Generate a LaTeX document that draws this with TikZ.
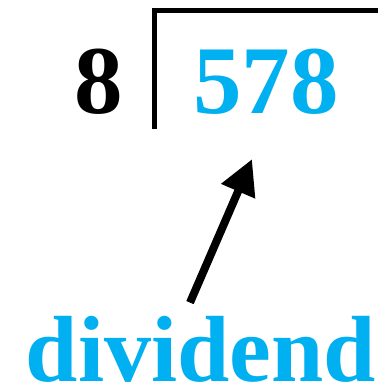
\documentclass[tikz,border=0pt]{standalone}
\usepackage{fontspec}
\setmainfont{Liberation Serif}
\usepackage{xcolor}
\usetikzlibrary{arrows.meta, positioning}
\definecolor{divblue}{HTML}{00B0F0}

\begin{document}
\begin{tikzpicture}[
			x=1pt, y=-1pt,
			digit/.style={inner sep=0pt, anchor=base,
				font=\bfseries\fontsize{97}{97}\selectfont},
			word/.style={inner sep=0pt, anchor=base, text=divblue,
				font=\bfseries\fontsize{94}{94}\selectfont},
			bar/.style={line width=5pt, miter limit=10},
			arrow/.style={-{Triangle[length=35pt, width=35pt]}, line width=8pt}
			]
			\useasboundingbox (0,0) rectangle (383,391);
			
			\node[digit] (divisor) at (99,113) {8};
			\node[digit, text=divblue] (number) at (266,113) {578};
			\node[word] (label) at (201,381) {dividend};
			
			% division bracket
			\draw[bar] (154.5,129) -- (154.5,10.5) -- (378,10.5);
			
			\draw[arrow] ([xshift=-11pt, yshift=13pt]label.north)
			-- ([xshift=-14pt, yshift=-45pt]number.south);
		\end{tikzpicture}
\end{document}
